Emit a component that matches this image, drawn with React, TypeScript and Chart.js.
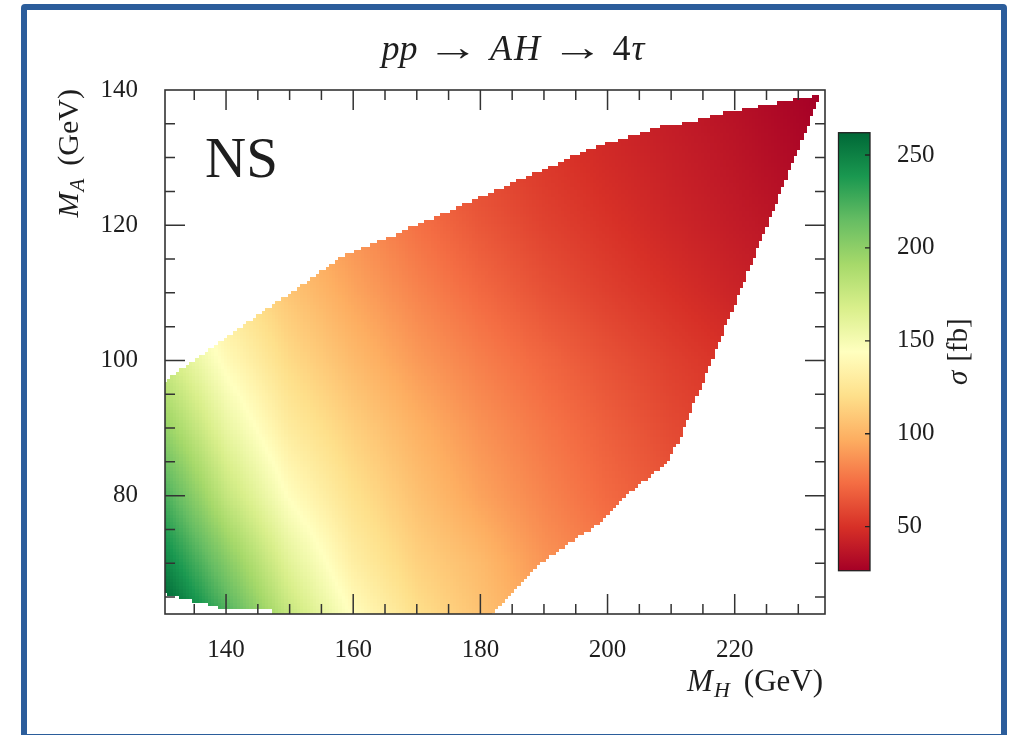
import React, { useEffect, useRef } from "react";
import { Chart, registerables } from "chart.js";

Chart.register(...registerables);

// ---------- axis ranges & ticks ----------
const xMin = 130.4;
const xMax = 234.2;
const yMin = 62.5;
const yMax = 140;
const xTickValues = [140, 160, 180, 200, 220];
const yTickValues = [80, 100, 120, 140];
const cbMin = 26.3;
const cbMax = 262;
const cbTickValues = [50, 100, 150, 200, 250];

// ---------- cross-section grid (sigma in fb) ----------
const gridMH = [130, 140, 150, 160, 170, 180, 190, 200, 210, 220, 230, 235];
const gridMA = [60, 70, 80, 90, 100, 110, 120, 130, 140];
const sigmaMA60 = [276, 230, 182, 146, 123, 108, 94, 83, 73, 65, 58, 55];
const sigmaMA70 = [250, 205, 162, 132, 114, 103, 88, 78, 68, 61, 54, 51];
const sigmaMA80 = [226, 178, 143, 122, 106, 93, 82, 72, 64, 57, 51, 48];
const sigmaMA90 = [200, 158, 129, 113, 99, 87, 77, 68, 60, 54, 47, 44];
const sigmaMA100 = [175, 141, 118, 103, 90, 80, 71, 63, 56, 50, 44, 41];
const sigmaMA110 = [154, 127, 108, 94, 82, 72, 63, 56, 50, 44, 39, 36];
const sigmaMA120 = [138, 116, 100, 87, 75, 65, 57, 51, 45, 40, 35, 32];
const sigmaMA130 = [126, 107, 92, 80, 69, 60, 53, 47, 42, 37, 31, 28];
const sigmaMA140 = [117, 99, 86, 74, 64, 56, 49, 44, 39, 34, 28, 25];
const sigmaRows = [sigmaMA60, sigmaMA70, sigmaMA80, sigmaMA90, sigmaMA100, sigmaMA110, sigmaMA120, sigmaMA130, sigmaMA140];

// ---------- allowed region boundary ----------
const upperMH = [130.4, 158.3, 167.3, 179.9, 192.5, 197.7, 203.1, 208.3, 213.5, 218.8, 224.0, 229.2, 233.4];
const upperMA = [96.9, 115.3, 118.8, 124.0, 129.2, 131.4, 132.9, 134.5, 135.3, 136.6, 137.5, 138.5, 139.2];
const lowerMH = [130.4, 131.7, 134.3, 136.7, 138.7, 146.9, 147.4, 181.0, 181.5, 186.2, 190.0, 199.2, 202.4, 204.6, 207.1, 209.3, 211.4, 215.0, 220.0, 225.0, 230.0, 233.4];
const lowerMA = [65.6, 65.3, 64.6, 64.1, 63.5, 63.5, 62.0, 62.0, 62.5, 67.0, 70.5, 76.4, 79.8, 81.3, 83.3, 84.8, 88.7, 97.0, 108.5, 120.0, 131.5, 139.2];
const cellStep = 0.5;

// RdYlGn colormap
const rdylgn = ["#a50026", "#d73027", "#f46d43", "#fdae61", "#fee08b", "#ffffbf", "#d9ef8b", "#a6d96a", "#66bd63", "#1a9850", "#006837"];

const FAMILY = '"Liberation Serif", "DejaVu Serif", serif';
const TEXT = "#1e1e1e";
const AXIS = "#333333";

function hexRgb(h: string) {
  return [parseInt(h.slice(1, 3), 16), parseInt(h.slice(3, 5), 16), parseInt(h.slice(5, 7), 16)];
}
const rdylgnRgb = rdylgn.map(hexRgb);

function colorFor(v: number) {
  let t = (v - cbMin) / (cbMax - cbMin);
  t = Math.max(0, Math.min(1, t));
  const p = t * (rdylgnRgb.length - 1);
  const i = Math.min(Math.floor(p), rdylgnRgb.length - 2);
  const f = p - i;
  const a = rdylgnRgb[i];
  const b = rdylgnRgb[i + 1];
  const c = a.map((av, k) => Math.round(av + (b[k] - av) * f));
  return `rgb(${c[0]},${c[1]},${c[2]})`;
}

function interp(xs: number[], ys: number[], x: number) {
  if (x <= xs[0]) return ys[0];
  if (x >= xs[xs.length - 1]) return ys[ys.length - 1];
  for (let i = 0; i < xs.length - 1; i++) {
    if (x >= xs[i] && x <= xs[i + 1]) {
      const f = (x - xs[i]) / (xs[i + 1] - xs[i]);
      return ys[i] + (ys[i + 1] - ys[i]) * f;
    }
  }
  return ys[ys.length - 1];
}

function locate(arr: number[], v: number) {
  let i = 0;
  while (i < arr.length - 2 && v > arr[i + 1]) i++;
  const f = Math.max(0, Math.min(1, (v - arr[i]) / (arr[i + 1] - arr[i])));
  return [i, f];
}

function sigmaAt(mh: number, ma: number) {
  const [i, fx] = locate(gridMH, mh);
  const [j, fy] = locate(gridMA, ma);
  const r0 = sigmaRows[j];
  const r1 = sigmaRows[j + 1];
  const a = r0[i] + (r0[i + 1] - r0[i]) * fx;
  const b = r1[i] + (r1[i + 1] - r1[i]) * fx;
  return a + (b - a) * fy;
}

type Run = { t: string; style: string; size: number; dy?: number; gap?: number; sx?: number };

function runsWidth(ctx: CanvasRenderingContext2D, runs: Run[]) {
  let w = 0;
  for (const r of runs) {
    ctx.font = `${r.style} ${r.size}px ${FAMILY}`;
    w += (r.gap || 0) + ctx.measureText(r.t).width * (r.sx || 1);
  }
  return w;
}

function drawRuns(ctx: CanvasRenderingContext2D, runs: Run[], x: number, y: number) {
  let cx = x;
  for (const r of runs) {
    ctx.font = `${r.style} ${r.size}px ${FAMILY}`;
    cx += r.gap || 0;
    const sx = r.sx || 1;
    ctx.save();
    ctx.translate(cx, y + (r.dy || 0));
    ctx.scale(sx, 1);
    ctx.fillText(r.t, 0, 0);
    ctx.restore();
    cx += ctx.measureText(r.t).width * sx;
  }
}

const heatmapPlugin = {
  id: "heatmap",
  beforeDatasetsDraw(chart: any) {
    const { ctx, chartArea: a, scales } = chart;
    const x = scales.x;
    const y = scales.y;
    ctx.save();
    ctx.beginPath();
    ctx.rect(a.left, a.top, a.right - a.left, a.bottom - a.top);
    ctx.clip();
    const i0 = Math.ceil(xMin / cellStep);
    const i1 = Math.floor(upperMH[upperMH.length - 1] / cellStep);
    const j0 = Math.ceil(yMin / cellStep);
    const j1 = Math.floor(yMax / cellStep);
    for (let i = i0; i <= i1; i++) {
      const mh = i * cellStep;
      const lo = interp(lowerMH, lowerMA, mh);
      const hi = interp(upperMH, upperMA, mh);
      const x0 = Math.floor(x.getPixelForValue(mh - cellStep / 2));
      const x1 = Math.ceil(x.getPixelForValue(mh + cellStep / 2));
      for (let j = j0; j <= j1; j++) {
        const ma = j * cellStep;
        if (ma < lo || ma > hi) continue;
        const y0 = Math.floor(y.getPixelForValue(ma + cellStep / 2));
        const y1 = Math.ceil(y.getPixelForValue(ma - cellStep / 2));
        ctx.fillStyle = colorFor(sigmaAt(mh, ma));
        ctx.fillRect(x0, y0, x1 - x0, y1 - y0);
      }
    }
    ctx.restore();
  },
  afterDraw(chart: any) {
    const { ctx, chartArea: a, scales } = chart;
    const x = scales.x;
    const y = scales.y;
    ctx.save();
    // frame
    ctx.strokeStyle = AXIS;
    ctx.lineWidth = 1.6;
    ctx.strokeRect(a.left, a.top, a.right - a.left, a.bottom - a.top);
    // ticks (inward, all four sides)
    ctx.lineWidth = 1.5;
    ctx.beginPath();
    for (let v = 135; v <= 230; v += 5) {
      const px = x.getPixelForValue(v);
      const len = v % 20 === 0 ? 20 : 10;
      ctx.moveTo(px, a.bottom);
      ctx.lineTo(px, a.bottom - len);
      ctx.moveTo(px, a.top);
      ctx.lineTo(px, a.top + len);
    }
    for (let v = 65; v <= 135; v += 5) {
      const py = y.getPixelForValue(v);
      const len = v % 20 === 0 ? 20 : 10;
      ctx.moveTo(a.left, py);
      ctx.lineTo(a.left + len, py);
      ctx.moveTo(a.right, py);
      ctx.lineTo(a.right - len, py);
    }
    ctx.stroke();

    ctx.fillStyle = TEXT;
    ctx.textBaseline = "alphabetic";
    ctx.textAlign = "left";

    // title
    const tSize = 36;
    const titleRuns: Run[] = [
      { t: "pp", style: "italic", size: tSize },
      { t: "\u2192", style: "normal", size: 38, gap: 9, sx: 1.38 },
      { t: "A", style: "italic", size: tSize, gap: 11 },
      { t: "H", style: "italic", size: tSize, gap: 2 },
      { t: "\u2192", style: "normal", size: 38, gap: 11, sx: 1.38 },
      { t: "4", style: "normal", size: tSize, gap: 9 },
      { t: "\u03c4", style: "italic", size: tSize, gap: 1 },
    ];
    const tw = runsWidth(ctx, titleRuns);
    drawRuns(ctx, titleRuns, 513 - tw / 2, 60);

    // NS label
    ctx.font = `normal 57px ${FAMILY}`;
    ctx.fillText("NS", 205, 177);

    // x axis label (right aligned to plot edge)
    const lSize = 31;
    const xl: Run[] = [
      { t: "M", style: "italic", size: lSize },
      { t: "H", style: "italic", size: 22, dy: 6, gap: 1 },
      { t: "(GeV)", style: "normal", size: lSize, gap: 14 },
    ];
    const xlw = runsWidth(ctx, xl);
    drawRuns(ctx, xl, a.right - 2 - xlw, 691);

    // y axis label (rotated, ending at plot top)
    const yl: Run[] = [
      { t: "M", style: "italic", size: 30 },
      { t: "A", style: "italic", size: 21, dy: 6, gap: 1 },
      { t: "(GeV)", style: "normal", size: 30, gap: 13 },
    ];
    const ylw = runsWidth(ctx, yl);
    ctx.translate(78, a.top - 1);
    ctx.rotate(-Math.PI / 2);
    drawRuns(ctx, yl, -ylw, 0);
    ctx.restore();
  },
};

const colorbarPlugin = {
  id: "colorbarFrame",
  afterDraw(chart: any) {
    const { ctx, chartArea: a, scales } = chart;
    const y = scales.y;
    ctx.save();
    ctx.strokeStyle = "#222";
    ctx.lineWidth = 1.3;
    ctx.strokeRect(a.left, a.top, a.right - a.left, a.bottom - a.top);
    ctx.beginPath();
    for (const v of cbTickValues) {
      const py = y.getPixelForValue(v);
      ctx.moveTo(a.right, py);
      ctx.lineTo(a.right - 5, py);
    }
    ctx.stroke();
    // label sigma [fb], rotated, reading bottom to top
    ctx.fillStyle = TEXT;
    const runs: Run[] = [
      { t: "\u03c3", style: "italic", size: 29 },
      { t: "[fb]", style: "normal", size: 29, gap: 9 },
    ];
    const w = runsWidth(ctx, runs);
    ctx.translate(967 - 830, (a.top + a.bottom) / 2);
    ctx.rotate(-Math.PI / 2);
    drawRuns(ctx, runs, -w / 2, 0);
    ctx.restore();
  },
};

export default function App() {
  const mainRef = useRef<HTMLCanvasElement | null>(null);
  const cbRef = useRef<HTMLCanvasElement | null>(null);

  useEffect(() => {
    if (!mainRef.current || !cbRef.current) return;
    const tickFont = { family: FAMILY, size: 25 };

    const main = new Chart(mainRef.current, {
      type: "scatter",
      data: { datasets: [{ data: [] }] },
      options: {
        animation: false,
        responsive: false,
        maintainAspectRatio: false,
        devicePixelRatio: 1,
        layout: { padding: { left: 0, right: 1010 - 825, top: 90, bottom: 0 } },
        plugins: { legend: { display: false }, tooltip: { enabled: false }, title: { display: false } },
        scales: {
          x: {
            type: "linear",
            min: xMin,
            max: xMax,
            afterBuildTicks: (s: any) => {
              s.ticks = xTickValues.map((v) => ({ value: v }));
            },
            afterFit: (s: any) => {
              s.height = 735 - 614;
            },
            grid: { display: false, drawTicks: false },
            border: { display: false },
            ticks: { padding: 21, font: tickFont, color: TEXT, maxRotation: 0, autoSkip: false },
          },
          y: {
            type: "linear",
            min: yMin,
            max: yMax,
            afterBuildTicks: (s: any) => {
              s.ticks = yTickValues.map((v) => ({ value: v }));
            },
            afterFit: (s: any) => {
              s.width = 165;
            },
            grid: { display: false, drawTicks: false },
            border: { display: false },
            ticks: { padding: 27, font: tickFont, color: TEXT, autoSkip: false },
          },
        },
      },
      plugins: [heatmapPlugin],
    } as any);

    const cb = new Chart(cbRef.current, {
      type: "bar",
      data: {
        labels: [""],
        datasets: [
          {
            data: [[cbMin, cbMax]],
            borderWidth: 0,
            barPercentage: 1,
            categoryPercentage: 1,
            backgroundColor: (c: any) => {
              const { chart } = c;
              const ys = chart.scales && chart.scales.y;
              if (!chart.chartArea || !ys) return rdylgn[5];
              const g = chart.ctx.createLinearGradient(0, ys.getPixelForValue(cbMin), 0, ys.getPixelForValue(cbMax));
              rdylgn.forEach((col, i) => g.addColorStop(i / (rdylgn.length - 1), col));
              return g;
            },
          },
        ],
      },
      options: {
        animation: false,
        responsive: false,
        maintainAspectRatio: false,
        devicePixelRatio: 1,
        layout: { padding: { left: 8.5, top: 12.7, bottom: 14.3, right: 0 } },
        plugins: { legend: { display: false }, tooltip: { enabled: false } },
        scales: {
          x: { display: false },
          y: {
            position: "right",
            min: cbMin,
            max: cbMax,
            afterBuildTicks: (s: any) => {
              s.ticks = cbTickValues.map((v) => ({ value: v }));
            },
            afterFit: (s: any) => {
              s.width = 130;
              s.paddingTop = 0;
              s.paddingBottom = 0;
            },
            grid: { display: false, drawTicks: false },
            border: { display: false },
            ticks: { padding: 27, font: tickFont, color: TEXT, autoSkip: false },
          },
        },
      },
      plugins: [colorbarPlugin],
    } as any);

    return () => {
      main.destroy();
      cb.destroy();
    };
  }, []);

  return (
    <div style={{ position: "absolute", left: 0, top: 0, width: 1010, height: 735, background: "#ffffff", overflow: "hidden" }}>
      <div style={{ position: "absolute", left: 0, top: 0, width: 1010, height: 735 }}>
        <canvas ref={mainRef} width={1010} height={735} style={{ width: 1010, height: 735, display: "block" }} />
      </div>
      <div style={{ position: "absolute", left: 830, top: 120, width: 170, height: 465 }}>
        <canvas ref={cbRef} width={170} height={465} style={{ width: 170, height: 465, display: "block" }} />
      </div>
      <div
        style={{
          position: "absolute",
          left: 21,
          top: 4,
          width: 986,
          height: 736,
          boxSizing: "border-box",
          border: "6px solid #2b5d9b",
          borderRadius: 4,
          pointerEvents: "none",
        }}
      />
    </div>
  );
}
